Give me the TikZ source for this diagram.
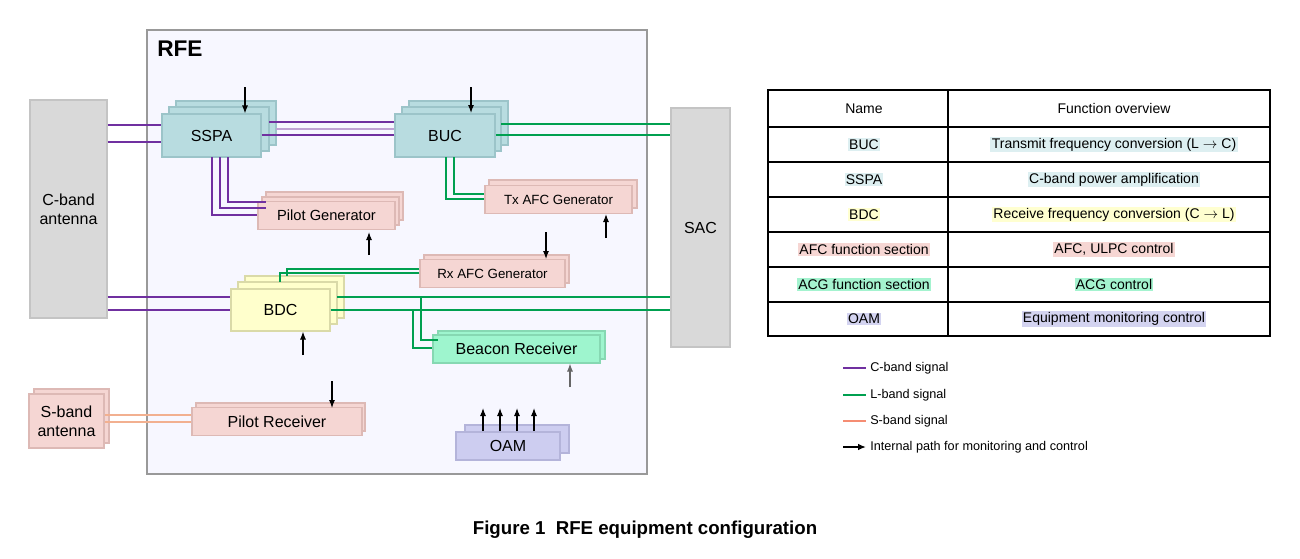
\documentclass[tikz,border=0pt]{standalone}
\usepackage{fontspec}
\setmainfont{Liberation Sans}
\usetikzlibrary{arrows.meta}
\definecolor{teal}{HTML}{B8DCE0}\definecolor{tealD}{HTML}{9CC4C9}
\definecolor{pink}{HTML}{F5D6D3}\definecolor{pinkD}{HTML}{DDB9B5}
\definecolor{yel}{HTML}{FFFFCC}\definecolor{yelD}{HTML}{DADAA8}
\definecolor{mint}{HTML}{9EF5CE}\definecolor{mintD}{HTML}{86D8B2}
\definecolor{lav}{HTML}{CDCDF0}\definecolor{lavD}{HTML}{B4B4DA}
\definecolor{ant}{HTML}{D9D9D9}\definecolor{antD}{HTML}{C4C4C4}
\definecolor{cpur}{HTML}{7030A0}\definecolor{cgrn}{HTML}{00A050}\definecolor{cor}{HTML}{F2B090}
\definecolor{hteal}{HTML}{DDEFF1}\definecolor{hyel}{HTML}{FFFFD0}\definecolor{hpink}{HTML}{F6D6D3}
\definecolor{hmint}{HTML}{A4F3CF}\definecolor{hlav}{HTML}{D3D3F0}
\begin{document}
\begin{tikzpicture}[x=0.75pt,y=-0.75pt,
  blk/.style={draw=#1D,fill=#1,line width=0.8pt,inner sep=0pt},
  lbl/.style={font=\fontsize{12}{14}\selectfont},
  slbl/.style={font=\fontsize{10}{12}\selectfont},
  cb/.style={cpur,line width=0.8pt},
  lb/.style={cgrn,line width=0.8pt},
  sb/.style={cor,line width=1.2pt},
  ar/.style={-{Latex[length=6pt,width=4.5pt]},line width=0.8pt},
  tx/.style={font=\fontsize{10.5}{12}\selectfont,inner sep=1pt}]
\useasboundingbox (0,0) rectangle (1300,558);
% RFE
\draw[fill=black!3!blue!3!white,draw=black!40,line width=1.5pt] (147,30) rectangle (647,474);
\node[anchor=north west,font=\bfseries\fontsize{17}{20}\selectfont,inner sep=0pt] (rfe) at (157,41) {RFE};
% antennas
\node[blk=ant,minimum width=77*0.75pt,minimum height=218*0.75pt,align=center,lbl] (cant) at (68.5,209) {C-band\\antenna};
\node[blk=ant,minimum width=59*0.75pt,minimum height=239*0.75pt,lbl] (sac) at (700.5,227.5) {SAC};
\draw[blk=pink] (34,389) rectangle (109,443);
\node[blk=pink,minimum width=75*0.75pt,minimum height=54*0.75pt,align=center,lbl] (sant) at (66.5,421) {S-band\\antenna};
% SSPA
\draw[blk=teal] (176,101) rectangle (276,145);
\draw[blk=teal] (169,107) rectangle (269,151);
\node[blk=teal,minimum width=99*0.75pt,minimum height=43*0.75pt,lbl] (sspa) at (211.5,135.5) {SSPA};
% BUC
\draw[blk=teal] (409,101) rectangle (508,145);
\draw[blk=teal] (402,107) rectangle (501,151);
\node[blk=teal,minimum width=100*0.75pt,minimum height=43*0.75pt,lbl] (buc) at (445,135.5) {BUC};
% Pilot Gen
\draw[blk=pink] (266,192) rectangle (403,220);
\draw[blk=pink] (262,197) rectangle (399,225);
\node[blk=pink,minimum width=137*0.75pt,minimum height=28*0.75pt,slbl,font=\fontsize{11}{13}\selectfont] (pg) at (326.5,215.5) {Pilot Generator};
% Tx AFC
\draw[blk=pink] (489,180) rectangle (637,208);
\node[blk=pink,minimum width=147*0.75pt,minimum height=28*0.75pt,slbl] (tx) at (558.5,199.5) {Tx AFC Generator};
% Rx AFC
\draw[blk=pink] (424,255) rectangle (569,283);
\node[blk=pink,minimum width=145*0.75pt,minimum height=28*0.75pt,slbl] (rx) at (492.5,273.5) {Rx AFC Generator};
% BDC
\draw[blk=yel] (245,276) rectangle (344,318);
\draw[blk=yel] (238,282) rectangle (337,324);
\node[blk=yel,minimum width=99*0.75pt,minimum height=42*0.75pt,lbl] (bdc) at (280.5,310) {BDC};
% Beacon
\draw[blk=mint] (438,331) rectangle (605,359);
\node[blk=mint,minimum width=167*0.75pt,minimum height=28*0.75pt,lbl] (bcn) at (516.5,349) {Beacon Receiver};
% Pilot receiver
\draw[blk=pink] (196,403) rectangle (365,431);
\node[blk=pink,minimum width=170*0.75pt,minimum height=28*0.75pt,lbl] (prx) at (277,421.5) {Pilot Receiver};
% OAM
\draw[blk=lav] (465,425) rectangle (569,453);
\node[blk=lav,minimum width=104*0.75pt,minimum height=28*0.75pt,lbl] (oam) at (508,446) {OAM};
% C-band lines
\draw[cb] (cant.east |- 0,125) -- (sspa.west |- 0,125);
\draw[cb] (cant.east |- 0,142) -- (sspa.west |- 0,142);
\draw[cb] (269,122) -- (buc.west |- 0,122);
\draw[cb,cpur!45] (276,129) -- (buc.west |- 0,129);
\draw[cb] (sspa.east |- 0,135) -- (buc.west |- 0,135);
\draw[cb] (212,157) |- (pg.west |- 0,215);
\draw[cb] (220,157) |- (266,208);
\draw[cb] (228,157) |- (266,202);
\draw[cb] (cant.east |- 0,297) -- (bdc.west |- 0,297);
\draw[cb] (cant.east |- 0,310) -- (bdc.west |- 0,310);
% L-band
\draw[lb] (501,124) -- (sac.west |- 0,124);
\draw[lb] (buc.east |- 0,135) -- (sac.west |- 0,135);
\draw[lb] (446,157) |- (tx.west |- 0,199);
\draw[lb] (454,157) |- (tx.west |- 0,194);
\draw[lb] (rx.west |- 0,269) -| (287,276);
\draw[lb] (rx.west |- 0,273) -| (280,282);
\draw[lb] (337,297) -- (sac.west |- 0,297);
\draw[lb] (bdc.east |- 0,310) -- (sac.west |- 0,310);
\draw[lb] (421,297) |- (438,340);
\draw[lb] (413,310) |- (bcn.west |- 0,348);
% S-band
\draw[sb] (sant.east |- 0,415) -- (prx.west |- 0,415);
\draw[sb] (sant.east |- 0,422) -- (prx.west |- 0,422);
% control arrows
\coordinate (a1) at (245,87); \draw[ar] (a1) -- (sspa.north -| a1);
\coordinate (a2) at (471,87); \draw[ar] (a2) -- (471,113);
\coordinate (a3) at (369,255); \draw[ar] (a3) -- (369,232);
\coordinate (a4) at (606,238); \draw[ar] (a4) -- (tx.south -| a4);
\coordinate (a5) at (546,232); \draw[ar] (a5) -- (546,259);
\coordinate (a6) at (303,355); \draw[ar] (a6) -- (bdc.south -| a6);
\coordinate (a7) at (570,387); \draw[ar,black!60] (a7) -- (bcn.south -| a7);
\coordinate (a8) at (332,381); \draw[ar] (a8) -- (332,408);
\foreach \x in {483,500,517,534} \draw[ar] (\x,431) -- (\x,408);
% table
\draw[line width=1.2pt] (768,90) rectangle (1270,336);
\draw[line width=1.2pt] (948,90) -- (948,336);
\foreach \y in {127,162,197,232,267,302} \draw[line width=1.2pt] (768,\y) -- (1270,\y);
\node[tx] at (864,108.5) {Name};
\node[tx] at (1114,108.5) {Function overview};
\node[tx,fill=hteal] at (864,144.5) {BUC};
\node[tx,fill=hteal] at (1114,144.5) {Transmit frequency conversion (L $\rightarrow$ C)};
\node[tx,fill=hteal] at (864,179.5) {SSPA};
\node[tx,fill=hteal] at (1114,179.5) {C-band power amplification};
\node[tx,fill=hyel] at (864,214.5) {BDC};
\node[tx,fill=hyel] at (1114,214.5) {Receive frequency conversion (C $\rightarrow$ L)};
\node[tx,fill=hpink] at (864,249.5) {AFC function section};
\node[tx,fill=hpink] at (1114,249.5) {AFC, ULPC control};
\node[tx,fill=hmint] at (864,284.5) {ACG function section};
\node[tx,fill=hmint] at (1114,284.5) {ACG control};
\node[tx,fill=hlav] at (864,319) {OAM};
\node[tx,fill=hlav] at (1114,319) {Equipment monitoring control};
% legend
\tikzset{lg/.style={anchor=west,font=\fontsize{9.5}{11}\selectfont,inner sep=0pt}}
\draw[cpur,line width=1.2pt] (843,368) -- (866,368); \node[lg] at (870,368) {C-band signal};
\draw[cgrn,line width=1.2pt] (843,395) -- (866,395); \node[lg] at (870,395) {L-band signal};
\draw[cor!80!red,line width=1.2pt] (843,421) -- (866,421); \node[lg] at (870,421) {S-band signal};
\draw[-{Latex[length=6pt,width=5pt]},line width=1.2pt] (843,447) -- (866,447); \node[lg] at (870,447) {Internal path for monitoring and control};
% caption
\node[font=\bfseries\fontsize{14}{16}\selectfont] at (645,530) {Figure 1\ \ RFE equipment configuration};
\end{tikzpicture}
\end{document}
